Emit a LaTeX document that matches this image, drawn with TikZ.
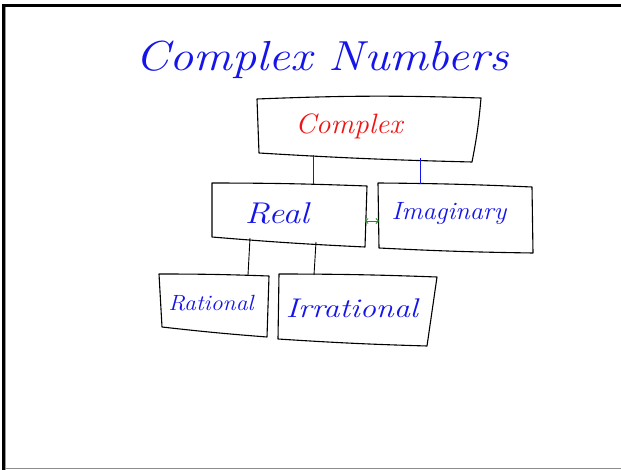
\documentclass[tikz,border=0pt]{standalone}
\usetikzlibrary{arrows.meta,calc}
\definecolor{inkblue}{RGB}{20,20,235}
\definecolor{inkred}{RGB}{240,20,20}
\definecolor{inkgreen}{RGB}{20,150,20}
\tikzset{
  boxline/.style={draw=black, line width=1.1pt, line join=round},
  link/.style={line width=0.9pt},
  hand/.style={inner sep=0pt, transform shape},
}
\begin{document}
\begin{tikzpicture}[x=1pt, y=-1pt]
\useasboundingbox (0,0) rectangle (621,470);
\fill[white] (0,0) rectangle (621,470);

% page frame
\draw[line width=3pt] (3.5,470) -- (3.5,5.5) -- (621,5.5);
\draw[gray!80, line width=1pt] (5.5,7) -- (5.5,470);
\draw[gray!90, line width=1.5pt] (5,468.5) -- (621,468.5);

% title
\node[hand, text=inkblue, xscale=1.15, font=\fontsize{42}{50}\selectfont\itshape] (title) at (322,60) {Complex Numbers};

% box corners
\coordinate (cTL) at (257,99);  \coordinate (cTR) at (481,98);
\coordinate (cBR) at (472,162); \coordinate (cBL) at (259,153);
\coordinate (rTL) at (212,183); \coordinate (rTR) at (367,186);
\coordinate (rBR) at (365,247); \coordinate (rBL) at (212,237);
\coordinate (iTL) at (378,183); \coordinate (iTR) at (532,187);
\coordinate (iBR) at (533,253); \coordinate (iBL) at (379,248);
\coordinate (qTL) at (159,274); \coordinate (qTR) at (269,276);
\coordinate (qBR) at (267,337); \coordinate (qBL) at (162,327);
\coordinate (zTL) at (279,274); \coordinate (zTR) at (437,277);
\coordinate (zBR) at (427,346); \coordinate (zBL) at (278,339);

% box outlines
\draw[boxline] (cTL) to[bend left=2] (cTR) to[bend left=3] (cBR) to[bend left=1] (cBL) -- cycle;
\draw[boxline] (rTL) to[bend left=1] (rTR) -- (rBR) to[bend left=1] (rBL) -- cycle;
\draw[boxline] (iTL) to[bend left=1] (iTR) -- (iBR) to[bend left=1] (iBL) -- cycle;
\draw[boxline] (qTL) to[bend left=1] (qTR) -- (qBR) to[bend left=1] (qBL) -- cycle;
\draw[boxline] (zTL) to[bend left=1] (zTR) -- (zBR) to[bend left=1] (zBL) -- cycle;

% labels
\node[hand, text=inkred, xscale=1.05, font=\fontsize{28}{33}\selectfont\itshape] (complex) at (349,126) {Complex};
\node[hand, text=inkblue, xscale=1.18, font=\fontsize{30}{36}\selectfont\itshape] (real) at (277,213) {Real};
\node[hand, text=inkblue, xscale=1.05, font=\fontsize{25}{30}\selectfont\itshape] (imag) at (449,214) {Imaginary};
\node[hand, text=inkblue, xscale=1.08, font=\fontsize{22}{26}\selectfont\itshape] (rational) at (211,303) {Rational};
\node[hand, text=inkblue, xscale=1.2, font=\fontsize{27}{32}\selectfont\itshape] (irrational) at (352,308) {Irrational};

% connector end points on the box edges
\coordinate (c-s1) at (313,155);  \coordinate (r-n1) at (313,184);
\coordinate (c-s2) at (420,158);  \coordinate (i-n1) at (420,184);
\coordinate (r-s1) at (250,238);  \coordinate (q-n1) at (248,275);
\coordinate (r-s2) at (316,242);  \coordinate (z-n1) at (314,275);
\coordinate (r-e)  at (365,221);  \coordinate (i-w)  at (379,221);

% connectors
\draw[link, inkblue] (c-s1) -- (r-n1);
\draw[link, inkblue] (c-s2) -- (i-n1);
\draw[link, black] (r-s1) -- (q-n1);
\draw[link, black] (r-s2) -- (z-n1);
\draw[inkgreen, line width=0.8pt, {Straight Barb[length=2.5pt]}-{Straight Barb[length=2.5pt]}] (r-e) -- (i-w);
\end{tikzpicture}
\end{document}
